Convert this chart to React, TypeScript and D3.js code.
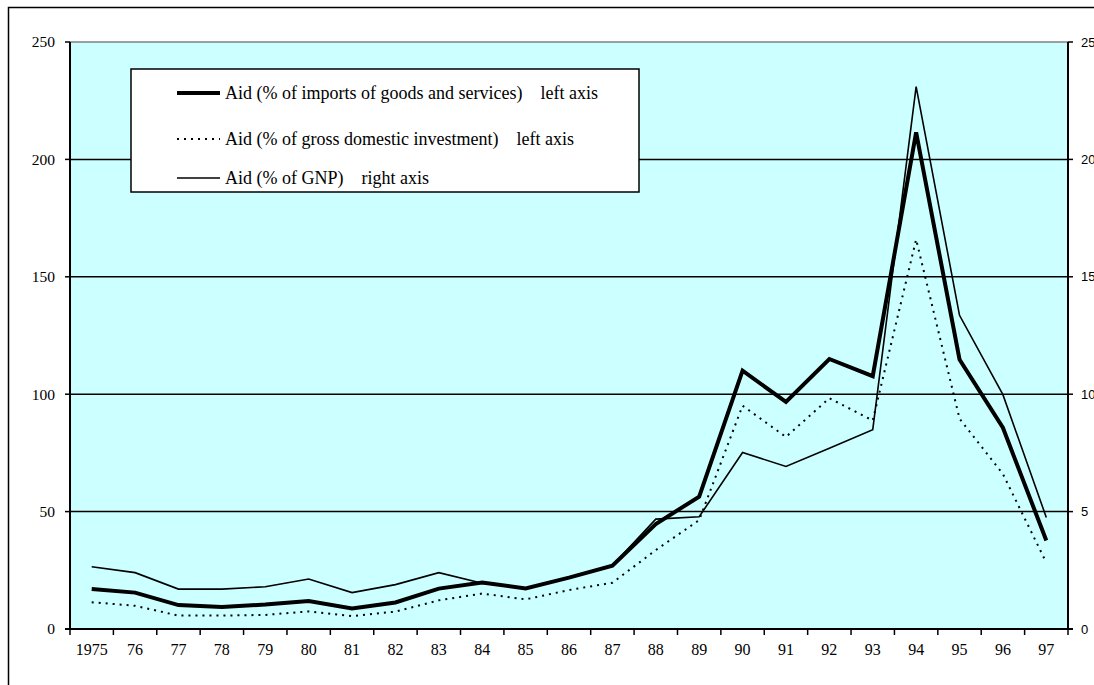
import React from "react";
import * as d3 from "d3";

// Years on the category axis
const years = [
  "1975", "76", "77", "78", "79", "80", "81", "82", "83", "84", "85", "86",
  "87", "88", "89", "90", "91", "92", "93", "94", "95", "96", "97",
];

// Aid as % of imports of goods and services (left axis)
const aidImports = [
  17.0, 15.5, 10.2, 9.4, 10.4, 11.9, 8.7, 11.3, 17.2, 19.8, 17.3, 21.9,
  27.0, 44.7, 56.4, 110.0, 96.7, 115.0, 107.7, 211.5, 114.8, 85.7, 37.7,
];

// Aid as % of gross domestic investment (left axis)
const aidInvestment = [
  11.4, 9.9, 5.7, 5.7, 6.0, 7.5, 5.5, 7.4, 12.2, 15.1, 12.6, 16.6,
  19.7, 33.6, 46.4, 95.1, 81.8, 98.3, 88.8, 165.9, 89.6, 66.0, 28.3,
];

// Aid as % of GNP (right axis)
const aidGnp = [
  2.65, 2.4, 1.7, 1.7, 1.8, 2.13, 1.55, 1.89, 2.4, 1.95, 1.73, 2.19,
  2.7, 4.68, 4.78, 7.52, 6.92, 7.7, 8.49, 23.1, 13.36, 9.98, 4.75,
];

const leftTicks = [0, 50, 100, 150, 200, 250];
const rightTicks = [0, 5, 10, 15, 20, 25];

const legendItems = [
  { label: "Aid (% of imports of goods and services)    left axis", kind: "thick" },
  { label: "Aid (% of gross domestic investment)    left axis", kind: "dotted" },
  { label: "Aid (% of GNP)    right axis", kind: "thin" },
];

const W = 1094;
const H = 685;
const plot = { left: 70, right: 1068, top: 42, bottom: 629 };

const serif = "'Liberation Serif', 'Times New Roman', serif";
const sans = "'Liberation Sans', Arial, sans-serif";

const styles: Record<string, { width: number; dash?: string }> = {
  thick: { width: 4 },
  dotted: { width: 2, dash: "2,5" },
  thin: { width: 1.6 },
};

export default function App() {
  const x = d3.scaleBand<string>().domain(years).range([plot.left, plot.right]).padding(0);
  const yL = d3.scaleLinear().domain([0, 250]).range([plot.bottom, plot.top]);
  const yR = d3.scaleLinear().domain([0, 25]).range([plot.bottom, plot.top]);
  const cx = (d: string) => (x(d) ?? 0) + x.bandwidth() / 2;

  const lineL = d3
    .line<number>()
    .x((_, i) => cx(years[i]))
    .y((v) => yL(v));
  const lineR = d3
    .line<number>()
    .x((_, i) => cx(years[i]))
    .y((v) => yR(v));

  const boundaries = years.map((d) => x(d) ?? 0).concat([plot.right]);

  return (
    <svg
      width={W}
      height={H}
      style={{ position: "absolute", left: 0, top: 0, background: "#ffffff" }}
    >
      {/* outer chart frame */}
      <rect x={8.5} y={7.5} width={1200} height={800} fill="#ffffff" stroke="#000" strokeWidth={1.5} />

      {/* plot area */}
      <rect
        x={plot.left}
        y={plot.top}
        width={plot.right - plot.left}
        height={plot.bottom - plot.top}
        fill="#CCFFFF"
      />
      <line x1={plot.left} x2={plot.right} y1={plot.top} y2={plot.top} stroke="#808080" strokeWidth={1.5} />

      {/* gridlines */}
      {leftTicks
        .filter((t) => t > 0 && t < 250)
        .map((t) => (
          <line key={"g" + t} x1={plot.left} x2={plot.right} y1={yL(t)} y2={yL(t)} stroke="#000" strokeWidth={1.5} />
        ))}

      {/* axes */}
      <line x1={plot.left} x2={plot.left} y1={plot.top} y2={plot.bottom} stroke="#000" strokeWidth={2} />
      <line x1={plot.right} x2={plot.right} y1={plot.top} y2={plot.bottom} stroke="#000" strokeWidth={2} />
      <line x1={plot.left - 5} x2={plot.right + 5} y1={plot.bottom} y2={plot.bottom} stroke="#000" strokeWidth={2} />

      {leftTicks.map((t) => (
        <g key={"l" + t}>
          <line x1={plot.left - 5} x2={plot.left} y1={yL(t)} y2={yL(t)} stroke="#000" strokeWidth={1.5} />
          <text
            x={plot.left - 15}
            y={yL(t)}
            dy="0.35em"
            textAnchor="end"
            fontFamily={serif}
            fontSize={15.5}
            fill="#000"
          >
            {t}
          </text>
        </g>
      ))}

      {rightTicks.map((t) => (
        <g key={"r" + t}>
          <line x1={plot.right} x2={plot.right + 5} y1={yR(t)} y2={yR(t)} stroke="#000" strokeWidth={1.5} />
          <text x={plot.right + 13} y={yR(t)} dy="0.35em" fontFamily={sans} fontSize={13} fill="#000">
            {t}
          </text>
        </g>
      ))}

      {boundaries.map((b, i) => (
        <line key={"t" + i} x1={b} x2={b} y1={plot.bottom} y2={plot.bottom + 6} stroke="#000" strokeWidth={1.5} />
      ))}

      {years.map((d) => (
        <text
          key={"x" + d}
          x={cx(d)}
          y={plot.bottom + 26}
          textAnchor="middle"
          fontFamily={serif}
          fontSize={16}
          fill="#000"
        >
          {d}
        </text>
      ))}

      {/* series */}
      <path d={lineL(aidInvestment) ?? ""} fill="none" stroke="#000" strokeWidth={2} strokeDasharray="2,5" />
      <path d={lineR(aidGnp) ?? ""} fill="none" stroke="#000" strokeWidth={1.6} strokeLinejoin="miter" />
      <path d={lineL(aidImports) ?? ""} fill="none" stroke="#000" strokeWidth={4} strokeLinejoin="miter" />

      {/* legend */}
      <rect x={131} y={69} width={508} height={123} fill="#ffffff" stroke="#000" strokeWidth={1.5} />
      {legendItems.map((item, i) => {
        const yy = [93, 139, 178][i];
        const s = styles[item.kind];
        return (
          <g key={item.kind}>
            <line x1={177} x2={220} y1={yy} y2={yy} stroke="#000" strokeWidth={s.width} strokeDasharray={s.dash} />
            <text
              x={225}
              y={yy}
              dy="0.35em"
              fontFamily={serif}
              fontSize={18}
              fill="#000"
              style={{ whiteSpace: "pre" }}
            >
              {item.label}
            </text>
          </g>
        );
      })}
    </svg>
  );
}
